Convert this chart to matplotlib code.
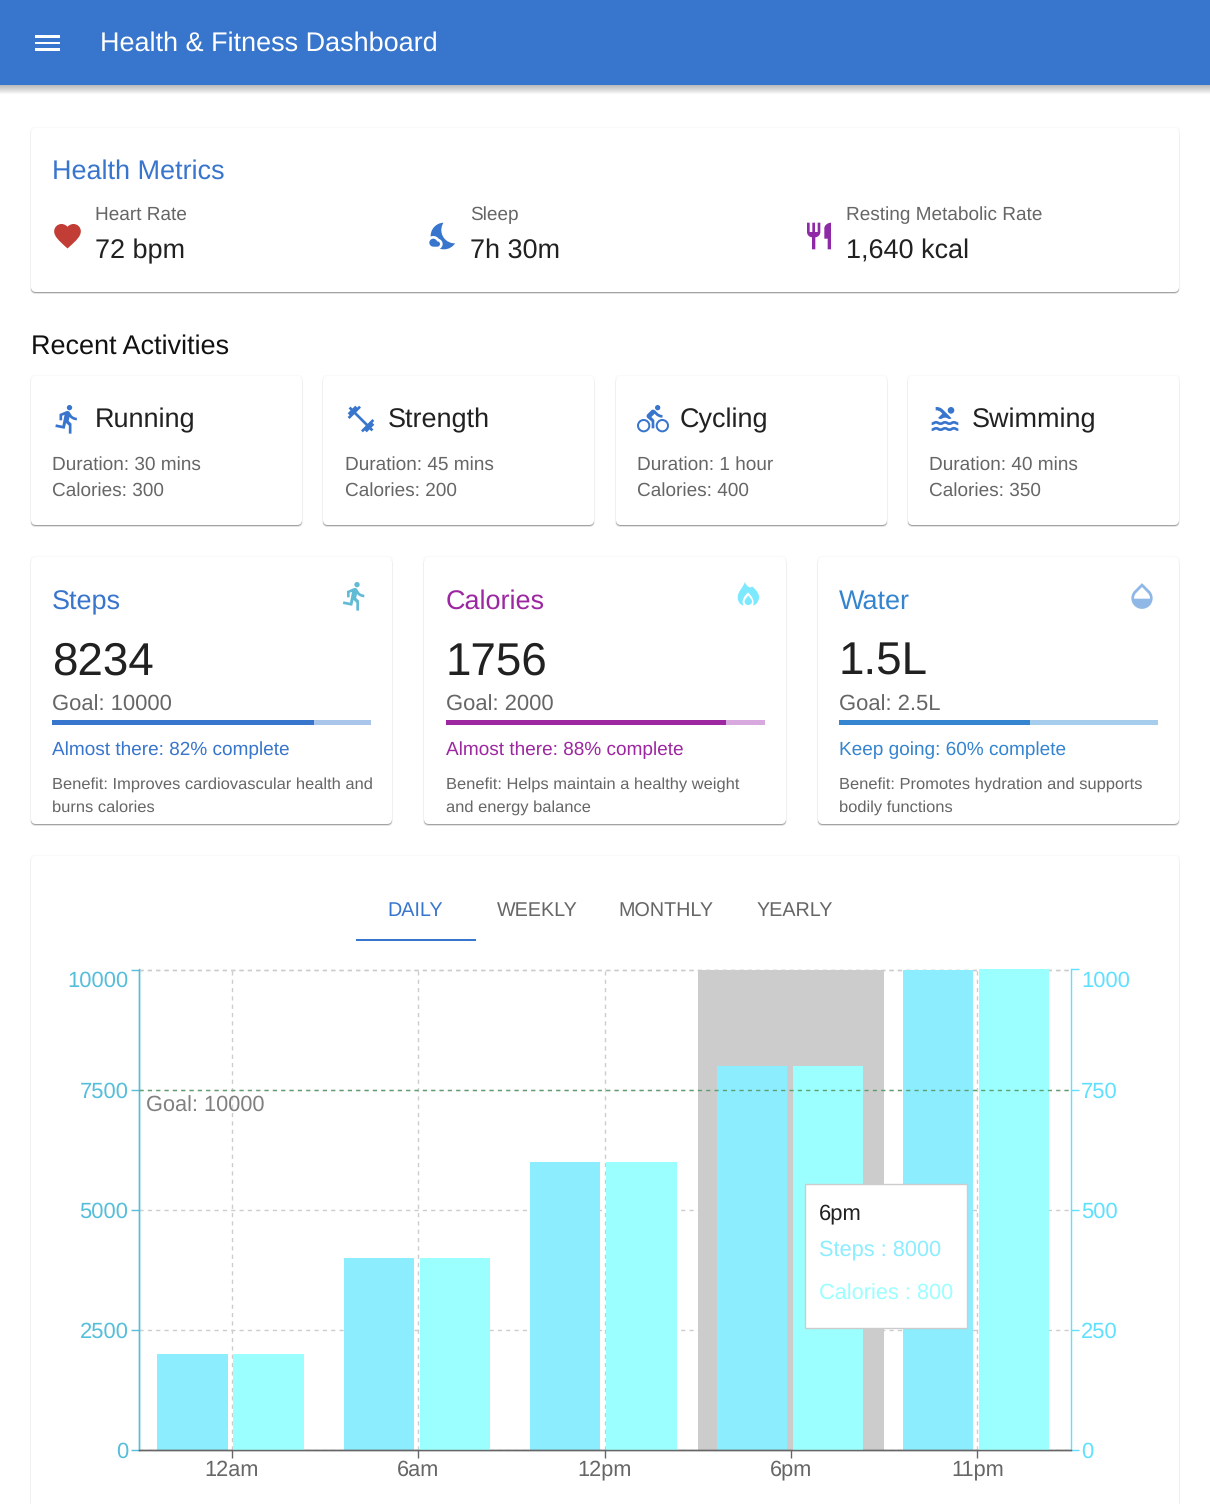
import re
import numpy as np
import matplotlib
matplotlib.use('Agg')
import matplotlib.pyplot as plt
from matplotlib.path import Path
from matplotlib.patches import PathPatch, FancyBboxPatch, Rectangle
from matplotlib.transforms import ScaledTranslation

plt.rcParams['font.family'] = ['Liberation Sans', 'DejaVu Sans']
plt.rcParams['text.hinting'] = 'no_hinting'

W, H = 1210, 1504
BLUE = '#3875cc'
PURPLE = '#9c27a0'
WATER = '#3584d0'
DARK = '#212121'
GRAY = '#666666'
TITLE_PX = 27.05
BODY_PX = 19.05

# chart data
hours = ['12am', '6am', '12pm', '6pm', '11pm']
steps = [2000, 4000, 6000, 8000, 10000]
calories = [200, 400, 600, 800, 1000]
steps_ticks = [0, 2500, 5000, 7500, 10000]
cal_ticks = [0, 250, 500, 750, 1000]
tabs = ['DAILY', 'WEEKLY', 'MONTHLY', 'YEARLY']
tab_x = [415.5, 537, 666, 794.5]

# cards data
metric_names = ['Heart Rate', 'Sleep', 'Resting Metabolic Rate']
metric_values = ['72 bpm', '7h 30m', '1,640 kcal']
activities = ['Running', 'Strength', 'Cycling', 'Swimming']
durations = ['30 mins', '45 mins', '1 hour', '40 mins']
activity_cals = [300, 200, 400, 350]
goal_titles = ['Steps', 'Calories', 'Water']
goal_values = ['8234', '1756', '1.5L']
goal_targets = ['10000', '2000', '2.5L']
goal_pct = [82, 88, 60]
goal_msgs = ['Almost there', 'Almost there', 'Keep going']
benefits = [['Improves cardiovascular health and', 'burns calories'],
            ['Helps maintain a healthy weight', 'and energy balance'],
            ['Promotes hydration and supports', 'bodily functions']]

# material icon outlines
HEART = 'M12 21.35l-1.45-1.32C5.4 15.36 2 12.28 2 8.5 2 5.42 4.42 3 7.5 3c1.74 0 3.41.81 4.5 2.09C13.09 3.81 14.76 3 16.5 3 19.58 3 22 5.42 22 8.5c0 3.78-3.4 6.86-8.55 11.54L12 21.35z'
MOON = 'M11.1 12.08c-2.33-4.51-.5-8.48.53-10.07C6.27 2.2 1.98 6.59 1.98 12c0 .14.02.28.02.42.62-.27 1.29-.42 2-.42 1.66 0 3.18.83 4.1 2.15C9.77 14.63 11 16.17 11 18c0 1.52-.87 2.83-2.12 3.51.98.32 2.03.5 3.11.5 3.5 0 6.58-1.8 8.37-4.52-2.36.23-6.98-.97-9.26-5.41zM7 16h-.18C6.4 14.84 5.3 14 4 14c-1.66 0-3 1.34-3 3s1.34 3 3 3h3c1.1 0 2-.9 2-2s-.9-2-2-2z'
FORK = 'M11 9H9V2H7v7H5V2H3v7c0 2.12 1.66 3.84 3.75 3.97V22h2.5v-9.03C11.34 12.84 13 11.12 13 9V2h-2v7zm5-3v8h2.5v8H21V2c-2.76 0-5 2.24-5 4z'
RUN = 'M13.49 5.48c1.1 0 2-.9 2-2s-.9-2-2-2-2 .9-2 2 .9 2 2 2zm-3.6 13.9l1-4.4 2.1 2v6h2v-7.5l-2.1-2 .6-3c1.3 1.5 3.3 2.5 5.5 2.5v-2c-1.9 0-3.5-1-4.3-2.4l-1-1.6c-.4-.6-1-1-1.7-1-.3 0-.5.1-.8.1l-5.2 2.2v4.7h2v-3.4l1.8-.7-1.6 8.1-4.9-1-.4 2 7 1.4z'
GYM = 'M20.57 14.86L22 13.43 20.57 12 17 15.57 8.43 7 12 3.43 10.57 2 9.14 3.43 7.71 2 5.57 4.14 4.14 2.71 2.71 4.14l1.43 1.43L2 7.71l1.43 1.43L2 10.57 3.43 12 7 8.43 15.57 17 12 20.57 13.43 22l1.43-1.43L16.29 22l2.14-2.14 1.43 1.43 1.43-1.43-1.43-1.43L22 16.29z'
BIKE = 'M15.5 5.5c1.1 0 2-.9 2-2s-.9-2-2-2-2 .9-2 2 .9 2 2 2zM5 12c-2.8 0-5 2.2-5 5s2.2 5 5 5 5-2.2 5-5-2.2-5-5-5zm0 8.5c-1.9 0-3.5-1.6-3.5-3.5s1.6-3.5 3.5-3.5 3.5 1.6 3.5 3.5-1.6 3.5-3.5 3.5zm5.8-10l2.4-2.4.8.8c1.3 1.3 3 2.1 5.1 2.1V9c-1.5 0-2.7-.6-3.6-1.5l-1.9-1.9c-.5-.4-1-.6-1.6-.6s-1.1.2-1.4.6L7.8 8.4c-.4.4-.6.9-.6 1.4 0 .6.2 1.1.6 1.4L11 14v5h2v-6.2l-2.2-2.3zM19 12c-2.8 0-5 2.2-5 5s2.2 5 5 5 5-2.2 5-5-2.2-5-5-5zm0 8.5c-1.9 0-3.5-1.6-3.5-3.5s1.6-3.5 3.5-3.5 3.5 1.6 3.5 3.5-1.6 3.5-3.5 3.5z'
POOL = 'M22 21c-1.11 0-1.73-.37-2.18-.64-.37-.22-.6-.36-1.15-.36-.56 0-.78.13-1.15.36-.46.27-1.07.64-2.18.64s-1.73-.37-2.18-.64c-.37-.22-.6-.36-1.15-.36-.56 0-.78.13-1.15.36-.46.27-1.08.64-2.19.64-1.11 0-1.73-.37-2.18-.64-.37-.23-.6-.36-1.15-.36s-.78.13-1.15.36c-.46.27-1.08.64-2.19.64v-2c.56 0 .78-.13 1.15-.36.46-.27 1.08-.64 2.19-.64s1.73.37 2.18.64c.37.22.6.36 1.15.36.56 0 .78-.13 1.15-.36.46-.27 1.08-.64 2.19-.64 1.11 0 1.73.37 2.18.64.37.22.6.36 1.15.36s.78-.13 1.15-.36c.45-.27 1.07-.64 2.18-.64s1.73.37 2.18.64c.37.23.59.36 1.15.36v2zm0-4.5c-1.11 0-1.73-.37-2.18-.64-.37-.22-.6-.36-1.15-.36-.56 0-.78.13-1.15.36-.45.27-1.07.64-2.18.64s-1.73-.37-2.18-.64c-.37-.22-.6-.36-1.15-.36-.56 0-.78.13-1.15.36-.45.27-1.07.64-2.18.64s-1.73-.37-2.18-.64c-.37-.22-.6-.36-1.15-.36s-.78.13-1.15.36c-.47.27-1.09.64-2.2.64v-2c.56 0 .78-.13 1.15-.36.45-.27 1.07-.64 2.18-.64s1.73.37 2.18.64c.37.22.6.36 1.15.36.56 0 .78-.13 1.15-.36.45-.27 1.07-.64 2.18-.64s1.73.37 2.18.64c.37.22.6.36 1.15.36s.78-.13 1.15-.36c.45-.27 1.07-.64 2.18-.64s1.73.37 2.18.64c.37.22.6.36 1.15.36v2zM8.67 12c.56 0 .78-.13 1.15-.36.46-.27 1.08-.64 2.19-.64 1.11 0 1.73.37 2.18.64.37.22.6.36 1.15.36s.78-.13 1.15-.36c.12-.07.26-.15.41-.23L10.48 5C8.93 3.45 7.5 2.99 5 3v2.5c1.82-.01 2.89.39 4 1.5l1 1-3.25 3.25c.31.12.56.27.77.39.37.23.59.36 1.15.36zM16.5 3c-1.38 0-2.5 1.12-2.5 2.5s1.12 2.5 2.5 2.5 2.5-1.12 2.5-2.5-1.12-2.5-2.5-2.5z'
DROP = 'M17.66 8L12 2.35 6.34 8C4.78 9.56 4 11.64 4 13.64s.78 4.11 2.34 5.67 3.61 2.35 5.66 2.35 4.1-.79 5.66-2.35S20 15.64 20 13.64 19.22 9.56 17.66 8zM6 14c.01-2 .62-3.27 1.76-4.4L12 5.27l4.24 4.38C17.38 10.77 17.99 12 18 14H6z'
# flame with an arch and a drop, in page pixels
FLAME = 'M745 581.7C746 586 750 589 752 586.5C757 590 759.5 595 759 598C758.5 602 756 605 753 605.5C755 601 752 596 748 592.5C744 596 741 601 743.5 605.5C740 605 737.5 601 737.7 597C738 591 743 588 745 581.7ZM748.3 595.5C750 598 752 599.5 752 601.5C752 603.7 750.3 605 748.3 605C746.3 605 744.6 603.7 744.6 601.5C744.6 599.5 746.5 598 748.3 595.5Z'


def svg_path(d):
    toks = re.findall(r'[MmLlHhVvCcSsZz]|-?\d*\.\d+|-?\d+', d)
    verts, codes = [], []
    i, cmd = 0, None
    cur = np.zeros(2)
    start = cur.copy()
    last_ctrl = None

    def num():
        nonlocal i
        i += 1
        return float(toks[i - 1])

    while i < len(toks):
        if toks[i].isalpha():
            cmd = toks[i]
            i += 1
        rel = cmd.islower()
        c = cmd.upper()
        base = cur if rel else np.zeros(2)
        if c == 'Z':
            verts.append(start.copy())
            codes.append(Path.CLOSEPOLY)
            cur = start.copy()
            last_ctrl = None
            continue
        if c in 'ML':
            p = base + [num(), num()]
            verts.append(p)
            codes.append(Path.MOVETO if c == 'M' else Path.LINETO)
            if c == 'M':
                start = p.copy()
                cmd = 'l' if rel else 'L'
            cur = p
            last_ctrl = None
        elif c == 'H':
            v = num()
            cur = np.array([cur[0] + v if rel else v, cur[1]])
            verts.append(cur)
            codes.append(Path.LINETO)
            last_ctrl = None
        elif c == 'V':
            v = num()
            cur = np.array([cur[0], cur[1] + v if rel else v])
            verts.append(cur)
            codes.append(Path.LINETO)
            last_ctrl = None
        else:
            if c == 'C':
                p1 = base + [num(), num()]
            else:
                p1 = 2 * cur - last_ctrl if last_ctrl is not None else cur.copy()
            p2 = base + [num(), num()]
            p3 = base + [num(), num()]
            verts += [p1, p2, p3]
            codes += [Path.CURVE4] * 3
            last_ctrl = p2
            cur = p3
    return Path(np.array(verts), codes)


fig = plt.figure(figsize=(W / 100, H / 100), dpi=100, facecolor='white')
bg = fig.add_axes([0, 0, 1, 1], zorder=0)
bg.set_xlim(0, W)
bg.set_ylim(H, 0)
bg.axis('off')


def text(x, y, s, px, color=DARK, ax=bg, **kw):
    kw.setdefault('va', 'baseline')
    ax.text(x, y, s, fontsize=px * 0.72, color=color, **kw)


def icon(d, x0, y0, color, scale=4 / 3, ax=bg):
    p = svg_path(d)
    p = Path(p.vertices * scale + [x0, y0], p.codes)
    ax.add_patch(PathPatch(p, fc=color, ec='none', lw=0))


def card(x0, y0, x1, y1):
    for off, a, grow in [(0, .018, 1.2), (1.6, .1, 0.4), (1, .27, 0)]:
        bg.add_patch(FancyBboxPatch((x0 - grow, y0 - grow + off), x1 - x0 + 2 * grow, y1 - y0 + 2 * grow,
                                    boxstyle='round,pad=0,rounding_size=5', fc='black', ec='none', alpha=a))
    bg.add_patch(FancyBboxPatch((x0, y0), x1 - x0, y1 - y0, boxstyle='round,pad=0,rounding_size=5',
                                fc='white', ec='none'))


# app bar
for k in range(9):
    bg.add_patch(Rectangle((0, 85), W, 9 - k, fc='black', ec='none', alpha=.03))
bg.add_patch(Rectangle((0, 0), W, 85, fc=BLUE, ec='none'))
for y in [36.5, 43, 49.5]:
    bg.add_patch(Rectangle((35, y - 1.3), 25, 2.6, fc='white', ec='none'))
text(100.5, 51, 'Health & Fitness Dashboard', TITLE_PX, 'white')

# health metrics
card(31, 128, 1179, 292)
text(52.5, 179, 'Health Metrics', TITLE_PX, BLUE)
metric_x = [95, 470.5, 846.5]
metric_y = [258, 258, 259]
metric_icons = [(HEART, 51.5, 220, '#c13d35'), (MOON, 428, 220, BLUE), (FORK, 803, 220, '#8e2aa5')]
for x, n, v, vy, ic in zip(metric_x, metric_names, metric_values, metric_y, metric_icons):
    text(x, 220, n, BODY_PX, GRAY)
    text(x, vy, v, TITLE_PX)
    icon(ic[0], ic[1], ic[2], ic[3])

# recent activities
text(31, 354, 'Recent Activities', TITLE_PX, '#111111')
act_x = [31, 323, 616, 908]
act_title_x = [95, 387.7, 680, 972]
act_text_x = [52.3, 344.7, 637.3, 929.3]
act_icons = [(RUN, 51.5), (GYM, 345), (BIKE, 637), (POOL, 929)]
for x, tx, bx, n, d, c, ic in zip(act_x, act_title_x, act_text_x, activities, durations, activity_cals, act_icons):
    card(x, 376, x + 271, 525)
    text(tx, 427, n, TITLE_PX)
    text(bx, 470, 'Duration: ' + d, BODY_PX, GRAY)
    text(bx, 496, f'Calories: {c}', BODY_PX, GRAY)
    icon(ic[0], ic[1], 403, BLUE)

# goal cards
goal_x = [31, 424, 818]
goal_w = [361, 362, 361]
goal_left = [52, 445.7, 839]
goal_title_y = [609.5, 609, 609]
goal_cols = [BLUE, PURPLE, WATER]
goal_light = ['#a9c6ea', '#d7a9df', '#a6cdec']
goal_icons = [(RUN, 339, '#62bbd5'), (None, 0, '#7de9ff'), (DROP, 1126, '#8fb8e6')]
for x, w, left, ty, t, v, g, pct, msg, ben, col, light, ic in zip(goal_x, goal_w, goal_left, goal_title_y, goal_titles,
                                                                 goal_values, goal_targets, goal_pct, goal_msgs, benefits,
                                                                 goal_cols, goal_light, goal_icons):
    card(x, 557, x + w, 824)
    bar_w = 319
    text(left, ty, t, TITLE_PX, col)
    text(left, 675, v, 45.8)
    text(left, 711, f'Goal: {g}', 22, GRAY)
    bg.add_patch(Rectangle((left, 720), bar_w, 5, fc=light, ec='none'))
    bg.add_patch(Rectangle((left, 720), bar_w * pct / 100, 5, fc=col, ec='none'))
    text(left, 755, f'{msg}: {pct}% complete', BODY_PX, col)
    text(left, 789, 'Benefit: ' + ben[0], 16.45, GRAY)
    text(left, 812, ben[1], 16.45, GRAY)
    if ic[0] is None:
        icon(FLAME, 0, 0, ic[2], scale=1)
    else:
        icon(ic[0], ic[1], 580, ic[2])

# chart card
card(31, 856, 1179, 1530)
for x, t in zip(tab_x, tabs):
    text(x, 916.4, t, 19.8, BLUE if t == 'DAILY' else GRAY, ha='center')
bg.add_patch(Rectangle((356, 939), 120, 2, fc=BLUE, ec='none'))

# bar chart
LEFT_C = '#55bedb'
RIGHT_C = '#5fe0ff'
ax = fig.add_axes([138.5 / W, 1 - 1449.5 / H, 932 / W, 480 / H], zorder=1)
ax.patch.set_alpha(0)
x = np.arange(len(hours))
ax.set_xlim(-0.5, len(hours) - 0.5)
ax.set_ylim(0, 10000)
ax.set_axisbelow(True)
ax.grid(True, color='#cccccc', ls=(0, (3, 3)), lw=1)
ax.axvspan(2.5, 3.5, color='#cccccc', lw=0, zorder=1)
ax.bar(x - 0.2105, steps, 0.377, color='#8cedff', zorder=2)
ax2 = ax.twinx()
ax2.set_ylim(0, 1000)
ax2.bar(x + 0.198, calories, 0.377, color='#9cffff', zorder=2)
ax2.axhline(750, color='#5f9e6e', ls=(0, (3, 3)), lw=1, zorder=3)
ax2.text(-0.5 + 7 / 186.4, 704, 'Goal: 10000', fontsize=21.8 * .72, color='#808080',
         va='baseline', zorder=3)

ax.set_xticks(x, hours)
ax.set_yticks(steps_ticks)
ax2.set_yticks(cal_ticks)
ax.tick_params(axis='x', length=5.8, width=1, color='#666666', labelcolor='#666666', labelsize=15.7, pad=1.5)
ax.tick_params(axis='y', length=5.8, width=1, color=LEFT_C, labelcolor=LEFT_C, labelsize=15.8, pad=1.5)
ax2.tick_params(axis='y', length=5.8, width=1, color=RIGHT_C, labelcolor=RIGHT_C, labelsize=15.8, pad=2)
for a in (ax, ax2):
    a.spines['top'].set_visible(False)
    for sp in a.spines.values():
        sp.set_linewidth(1)
    lab = a.get_yticklabels()[-1]
    lab.set_va('top')
    lab.set_transform(lab.get_transform() + ScaledTranslation(0, -1 / 72, fig.dpi_scale_trans))
ax2.spines['left'].set_color(LEFT_C)
ax2.spines['right'].set_color(RIGHT_C)
ax2.spines['bottom'].set_color('#666666')
ax.spines['right'].set_visible(False)
ax.spines['left'].set_color(LEFT_C)
ax.spines['bottom'].set_color('#666666')
# dashed top line like the grid
ax.axhline(10000, color='#cccccc', ls=(0, (3, 3)), lw=1, zorder=0, clip_on=False)

# tooltip on top of the chart
top = fig.add_axes([0, 0, 1, 1], zorder=3)
top.set_xlim(0, W)
top.set_ylim(H, 0)
top.axis('off')
top.add_patch(Rectangle((805, 1184), 162, 144, fc='white', ec='#cccccc', lw=1))
text(819, 1219, hours[3], 22, DARK, ax=top)
text(819, 1255.5, f'Steps : {steps[3]}', 21.8, '#8cedff', ax=top)
text(819, 1299.5, f'Calories : {calories[3]}', 21.8, '#9cffff', ax=top)

fig.savefig('out.png', dpi=100)
